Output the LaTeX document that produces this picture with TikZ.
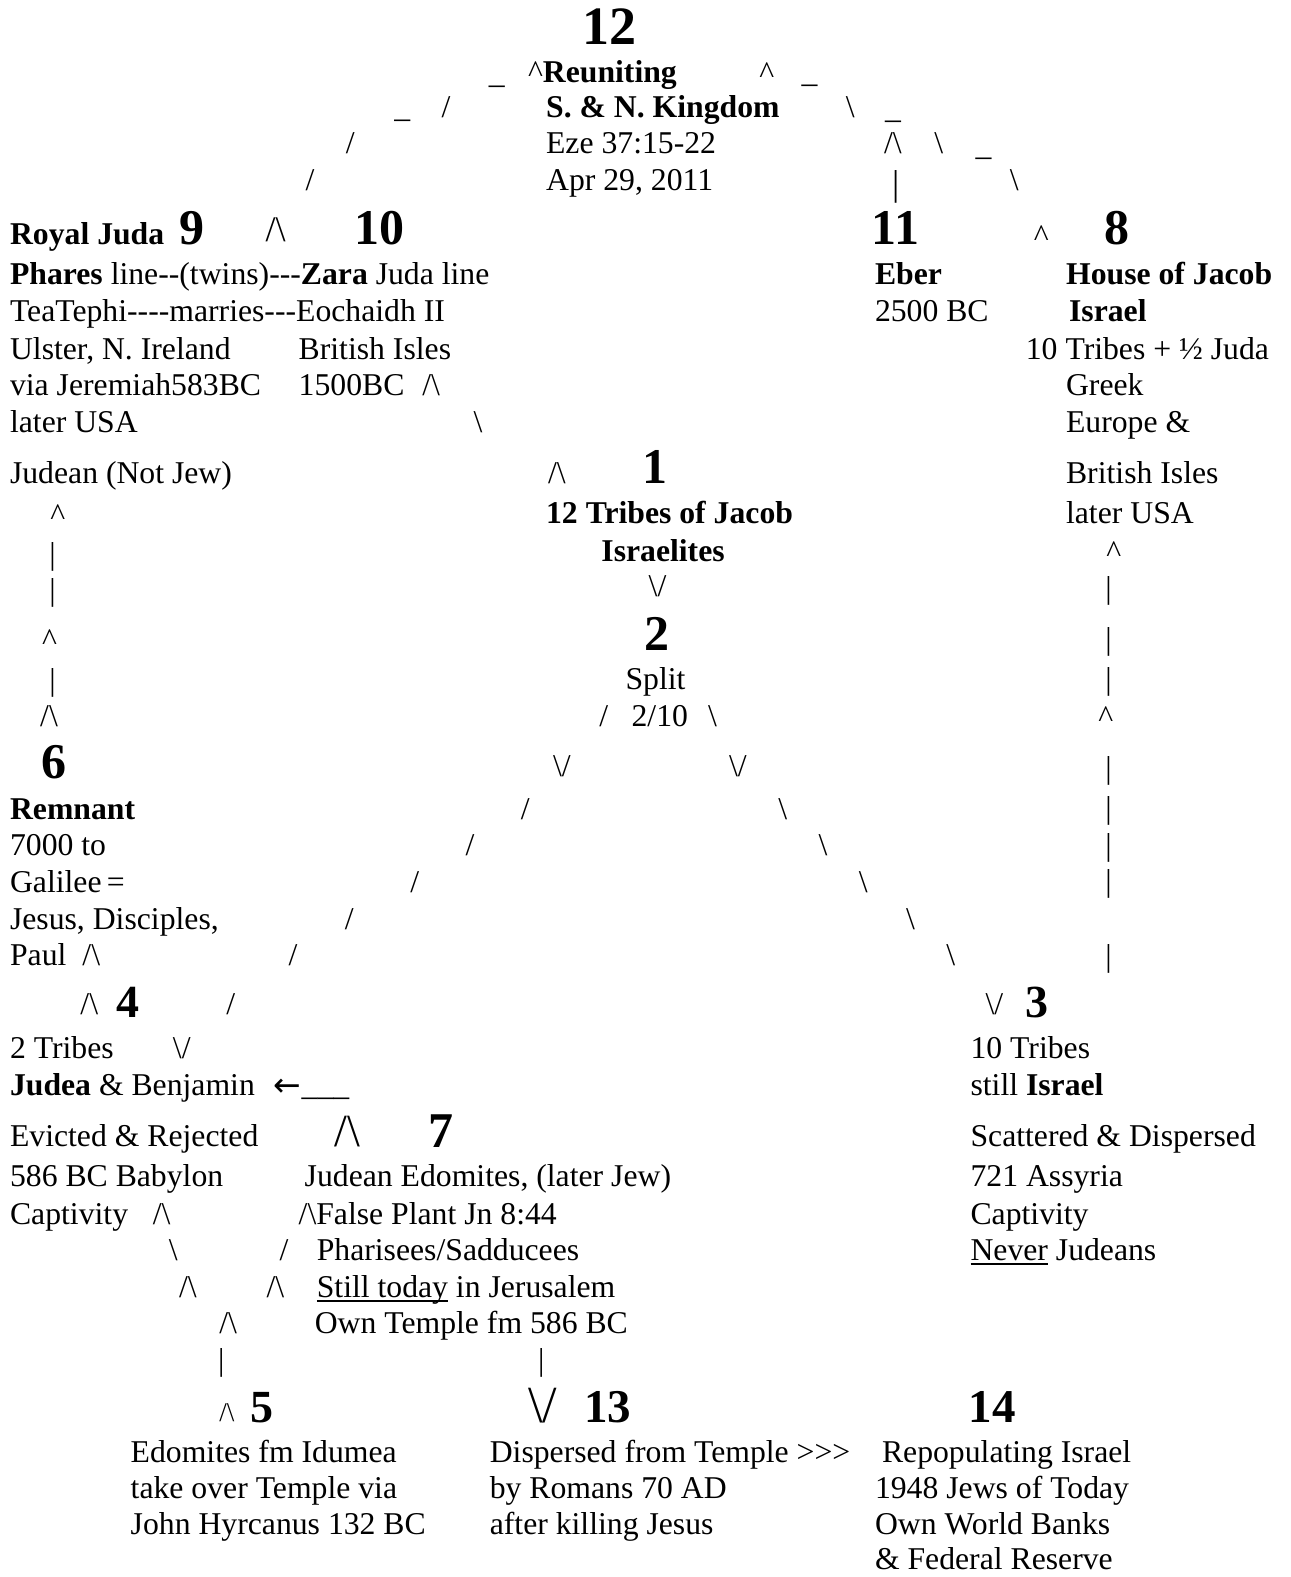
\documentclass[tikz,border=0pt]{standalone}
\usepackage{fontspec}
\newfontfamily\lsf{Liberation Serif}
\newfontfamily\djv{DejaVu Sans}
\newcommand\Bsl{\textbackslash}
\newcommand\Upc{/\textbackslash}
\newcommand\Dnc{\textbackslash/}
\newcommand\Crt{\textasciicircum}
\newcommand\Usc{\textunderscore}
\newcommand\Vbr{\textbar}
\tikzset{
  tx/.style={anchor=base west, inner sep=0pt, outer sep=0pt, font=\lsf\fontsize{31.7}{38}\selectfont},
  bx/.style={tx, font=\lsf\fontsize{31.7}{38}\selectfont\bfseries},
  num/.style={tx, font=\lsf\fontsize{50}{60}\selectfont\bfseries},
  glsz/.style={tx, font=\lsf\fontsize{#1}{#1}\selectfont},
  ul/.style={line width=1.6pt}
}
\begin{document}
\begin{tikzpicture}[x=1.0055pt,y=-1.0055pt]
\fill[white] (0,0) rectangle (1283,1568);
\path[use as bounding box] (0,0) rectangle (1283,1568);
% ---------- top: 12 ----------
\node[num,font=\lsf\fontsize{54}{60}\selectfont\bfseries] (n12) at (579,44) {12};
\node[tx] (u1) at (486,83) {\Usc};
\node[tx] (reun) at (525,82) {\Crt\textbf{Reuniting}};
\node[tx] (c1) at (755,83) {\Crt};
\node[tx] (u2) at (797,82) {\Usc};
\node[tx] (u3) at (392,117) {\Usc};
\node[tx] (s1) at (439,117) {/};
\node[bx] (sn) at (543,117) {S. \& N. Kingdom};
\node[tx] (b1) at (841,117) {\Bsl};
\node[tx] (u4) at (880,118) {\Usc};
\node[tx] (s2) at (344,153) {/};
\node[tx] (eze) at (543,153) {Eze 37:15-22};
\node[tx] (a1) at (879,153) {\Upc};
\node[tx] (b2) at (929,153) {\Bsl};
\node[tx] (u5) at (970,155) {\Usc};
\node[tx] (s3) at (304,189) {/};
\node[tx] (apr) at (543,189) {Apr 29, 2011};
\node[glsz=36] (v1) at (887,194) {\Vbr};
\node[tx] (b3) at (1004,189) {\Bsl};
% ---------- row of 9, 10, 11, 8 ----------
\node[bx] (royal) at (10,243) {Royal Juda};
\node[num] (n9) at (178,243) {9};
\node[glsz=36] (a2) at (264,240) {\Upc};
\node[num] (n10) at (352,243) {10};
\node[num] (n11) at (867,243) {11};
\node[tx] (c2) at (1028,245) {\Crt};
\node[num] (n8) at (1098,243) {8};
% ---------- left block 9/10 ----------
\node[tx] (phares) at (10,283) {\textbf{Phares} line--(twins)---\textbf{Zara} Juda line};
\node[tx] (tea) at (10,320) {TeaTephi----marries---Eochaidh II};
\node[tx] (ulster) at (10,357) {Ulster, N. Ireland};
\node[tx] (brit1) at (297,357) {British Isles};
\node[tx] (via) at (10,393) {via Jeremiah583BC};
\node[tx] (bc1500) at (297,393) {1500BC};
\node[tx] (a3) at (420,393) {\Upc};
\node[tx] (lusa1) at (10,430) {later USA};
\node[tx] (b4) at (471,430) {\Bsl};
\node[tx] (judean) at (10,481) {Judean (Not Jew)};
% ---------- right block 11 / 8 ----------
\node[bx] (eber) at (870,283) {Eber};
\node[tx] (bc2500) at (870,320) {2500 BC};
\node[bx] (house) at (1060,283) {House of Jacob};
\node[bx] (isr8) at (1063,320) {Israel};
\node[tx] (trb8) at (1020,357) {10 Tribes + ½ Juda};
\node[tx] (greek) at (1060,393) {Greek};
\node[tx] (europe) at (1060,430) {Europe \&};
\node[tx] (brit2) at (1060,481) {British Isles};
\node[tx] (lusa2) at (1060,521) {later USA};
% ---------- centre 1 / 2 ----------
\node[tx] (a4) at (545,481) {\Upc};
\node[num] (n1) at (639,481) {1};
\node[bx] (trb12) at (543,521) {12 Tribes of Jacob};
\node[bx] (isrl) at (598,558) {Israelites};
\node[tx] (d1) at (645,593) {\Dnc};
\node[num] (n2) at (641,647) {2};
\node[tx] (split) at (622,686) {Split};
\node[tx] (s4) at (596,722) {/};
\node[tx] (frac) at (628,722) {2/10};
\node[tx] (b5) at (704,722) {\Bsl};
\node[tx] (d2) at (550,772) {\Dnc};
\node[tx] (d3) at (725,772) {\Dnc};
% diagonals
\node[tx] (s5) at (518,815) {/};
\node[tx] (s6) at (463,851) {/};
\node[tx] (s7) at (408,887) {/};
\node[tx] (s8) at (343,924) {/};
\node[tx] (s9) at (287,960) {/};
\node[tx] (s10) at (225,1009) {/};
\node[tx] (b6) at (774,815) {\Bsl};
\node[tx] (b7) at (814,851) {\Bsl};
\node[tx] (b8) at (854,887) {\Bsl};
\node[tx] (b9) at (901,924) {\Bsl};
\node[tx] (b10) at (941,960) {\Bsl};
% ---------- left column ----------
\node[tx] (c3) at (50,522) {\Crt};
\node[tx] (v2) at (49,561) {\Vbr};
\node[tx] (v3) at (49,597) {\Vbr};
\node[tx] (c5) at (42,647) {\Crt};
\node[tx] (v6) at (49,687) {\Vbr};
\node[tx] (a5) at (40,722) {\Upc};
\node[num] (n6) at (41,774) {6};
\node[bx] (remn) at (10,815) {Remnant};
\node[tx] (k7000) at (10,851) {7000 to};
\node[tx] (galil) at (10,887) {Galilee\,=};
\node[tx] (jesus) at (10,924) {Jesus, Disciples,};
\node[tx] (paul) at (10,960) {Paul};
\node[tx] (a6) at (82,960) {\Upc};
% ---------- right column ----------
\node[tx] (c4) at (1100,559) {\Crt};
\node[tx] (v4) at (1099,595) {\Vbr};
\node[tx] (v5) at (1099,646) {\Vbr};
\node[tx] (v7) at (1099,686) {\Vbr};
\node[tx] (c6) at (1092,723) {\Crt};
\node[tx] (v8) at (1099,774) {\Vbr};
\node[tx] (v9) at (1099,814) {\Vbr};
\node[tx] (v10) at (1099,851) {\Vbr};
\node[tx] (v11) at (1099,886) {\Vbr};
\node[tx] (v12) at (1099,961) {\Vbr};
% ---------- 4 and 3 ----------
\node[tx] (a7) at (80,1009) {\Upc};
\node[num,font=\lsf\fontsize{46}{50}\selectfont\bfseries] (n4) at (116,1012) {4};
\node[tx] (trb2) at (10,1052) {2 Tribes};
\node[tx] (d5) at (172,1052) {\Dnc};
\node[tx] (judea) at (10,1089) {\textbf{Judea} \& Benjamin};
\node[tx, font=\djv\fontsize{33}{36}\selectfont] (arr) at (272,1090) {←};
\node[tx] (uu) at (300,1089) {\Usc\Usc\Usc};
\node[tx] (evict) at (10,1140) {Evicted \& Rejected};
\node[glsz=46] (a8) at (333,1140) {\Upc};
\node[num] (n7) at (426,1141) {7};
\node[tx] (babyl) at (10,1180) {586 BC Babylon};
\node[tx] (edom) at (303,1180) {Judean Edomites, (later Jew)};
\node[tx] (capt1) at (10,1217) {Captivity};
\node[tx] (a9) at (152,1217) {\Upc};
\node[tx] (false) at (297,1217) {\Upc False Plant Jn 8:44};
\node[tx] (b11) at (168,1253) {\Bsl};
\node[tx] (s11) at (278,1253) {/};
\node[tx] (phar) at (315,1253) {Pharisees/Sadducees};
\node[tx] (a10) at (178,1290) {\Upc};
\node[tx] (a11) at (265,1290) {\Upc};
\node[tx] (stilltd) at (315,1290) {Still today};
\node[tx] (jerus) at (stilltd.base east) {\ in Jerusalem};
\draw[ul] ([yshift=-3.5pt]stilltd.base west) -- ([yshift=-3.5pt]stilltd.base east);
\node[tx] (a12) at (218,1326) {\Upc};
\node[tx] (owntmp) at (313,1326) {Own Temple fm 586 BC};
\node[tx] (v13) at (217,1363) {\Vbr};
\node[tx] (v14) at (535,1363) {\Vbr};
% right 3 block
\node[tx] (d4) at (980,1009) {\Dnc};
\node[num,font=\lsf\fontsize{46}{50}\selectfont\bfseries] (n3) at (1020,1012) {3};
\node[tx] (trb10) at (965,1052) {10 Tribes};
\node[tx] (still) at (965,1089) {still \textbf{Israel}};
\node[tx] (scatt) at (965,1140) {Scattered \& Dispersed};
\node[tx] (assyr) at (965,1180) {721 Assyria};
\node[tx] (capt2) at (965,1217) {Captivity};
\node[tx] (never) at (965,1253) {Never};
\node[tx] (judns) at (never.base east) {\ Judeans};
\draw[ul] ([yshift=-3.5pt]never.base west) -- ([yshift=-3.5pt]never.base east);
% ---------- bottom row 5, 13, 14 ----------
\node[glsz=27] (a13) at (218,1413) {\Upc};
\node[num,font=\lsf\fontsize{46}{50}\selectfont\bfseries] (n5) at (249,1414) {5};
\node[glsz=52] (d6) at (525,1414) {\Dnc};
\node[num,font=\lsf\fontsize{47}{50}\selectfont\bfseries] (n13) at (581,1414) {13};
\node[num,font=\lsf\fontsize{47}{50}\selectfont\bfseries] (n14) at (963,1414) {14};
\node[tx] (e1) at (130,1454) {Edomites fm Idumea};
\node[tx] (e2) at (130,1490) {take over Temple via};
\node[tx] (e3) at (130,1526) {John Hyrcanus 132 BC};
\node[tx] (r1) at (487,1454) {Dispersed from Temple >>>};
\node[tx] (r2) at (487,1490) {by Romans 70 AD};
\node[tx] (r3) at (487,1526) {after killing Jesus};
\node[tx] (p1) at (877,1454) {Repopulating Israel};
\node[tx] (p2) at (870,1490) {1948 Jews of Today};
\node[tx] (p3) at (870,1526) {Own World Banks};
\node[tx] (p4) at (870,1561) {\& Federal Reserve};
\end{tikzpicture}
\end{document}
